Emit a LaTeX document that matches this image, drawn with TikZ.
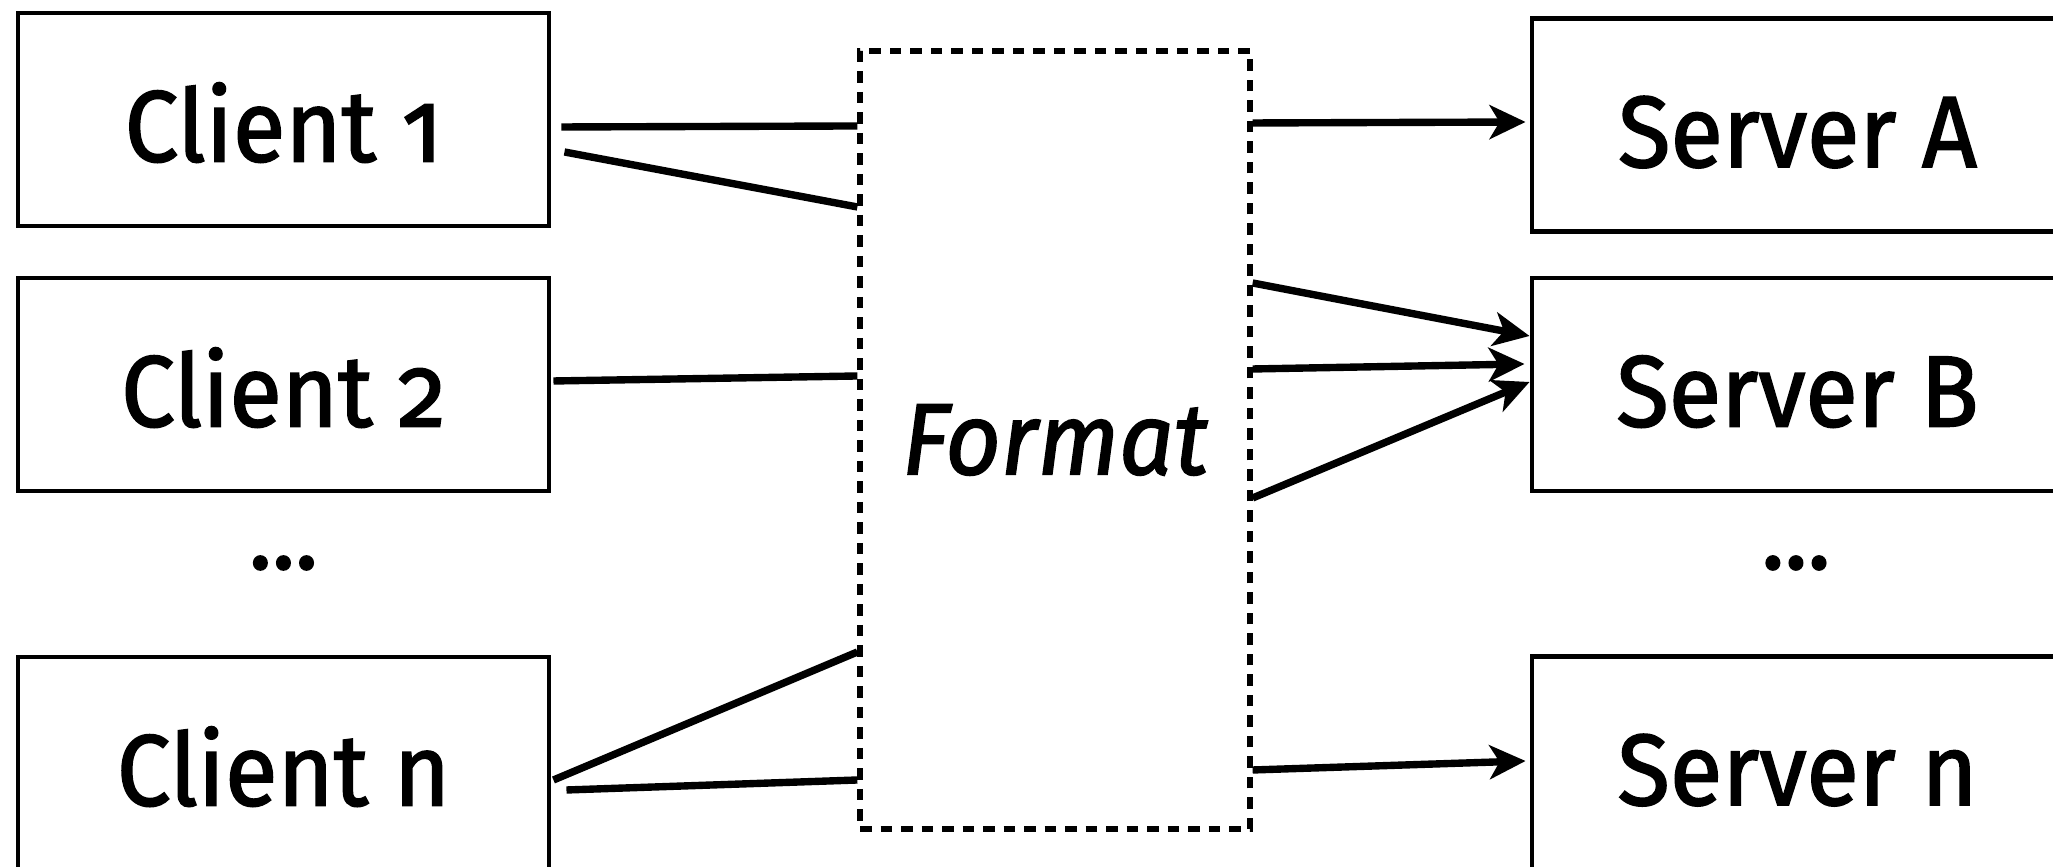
\documentclass[tikz,border=0pt]{standalone}
\usepackage{fontspec}
\setmainfont[Numbers=OldStyle,FakeBold=1.6,FakeStretch=0.95]{Fira Sans}
\usetikzlibrary{arrows.meta}
\begin{document}
\begin{tikzpicture}[>={Stealth[length=3.6mm,width=3.4mm,inset=1mm]},
  box/.style={shape=rectangle,draw,line width=1.4pt,minimum width=5.31cm,minimum height=2.13cm,
    text height=0.84cm,text depth=0cm},
  link/.style={line width=2.1pt},
  font=\fontsize{28.8}{34}\selectfont]
  \useasboundingbox (0,0) rectangle (20.53,8.67);

  \node (c1) at (2.835,7.475) [box] {Client 1} ;
  \node (c2) at (2.835,4.825) [box] {Client 2} ;
  \node (cdots) at (2.835,3.04) {...} ;
  \node (cn) at (2.835,1.035) [box] {Client n} ;

  \node (fmt) at (10.55,4.27) [shape=rectangle,draw,line width=1.5pt,dash pattern=on 1.15mm off 0.9mm,
    minimum width=3.9cm,minimum height=7.78cm] {\itshape Format} ;

  \node (sA) at (17.975,7.42) [box] {Server A} ;
  \node (sB) at (17.975,4.825) [box] {Server B} ;
  \node (sdots) at (17.96,3.04) {...} ;
  \node (sn) at (17.975,1.04) [box] {Server n} ;

  \draw [link] ([shift={(0.10,-0.075)}]c1.east) -- ([yshift=3.14cm]fmt.west);
  \draw [link] ([shift={(0.13,-0.325)}]c1.east) -- ([yshift=2.33cm]fmt.west);
  \draw [link] ([shift={(0.02,0.035)}]c2.east) -- ([yshift=0.64cm]fmt.west);
  \draw [link] ([shift={(0.02,-0.165)}]cn.east) -- ([yshift=-2.12cm]fmt.west);
  \draw [link] ([shift={(0.15,-0.265)}]cn.east) -- ([yshift=-3.40cm]fmt.west);

  \draw [link,->] ([yshift=3.17cm]fmt.east) -- ([shift={(-0.04,0.03)}]sA.west);
  \draw [link,->] ([yshift=1.57cm]fmt.east) -- ([yshift=0.485cm]sB.west);
  \draw [link,->] ([yshift=0.71cm]fmt.east) -- ([shift={(-0.05,0.205)}]sB.west);
  \draw [link,->] ([yshift=-0.58cm]fmt.east) -- ([yshift=0.025cm]sB.west);
  \draw [link,->] ([yshift=-3.30cm]fmt.east) -- ([shift={(-0.04,0.02)}]sn.west);
\end{tikzpicture}
\end{document}
